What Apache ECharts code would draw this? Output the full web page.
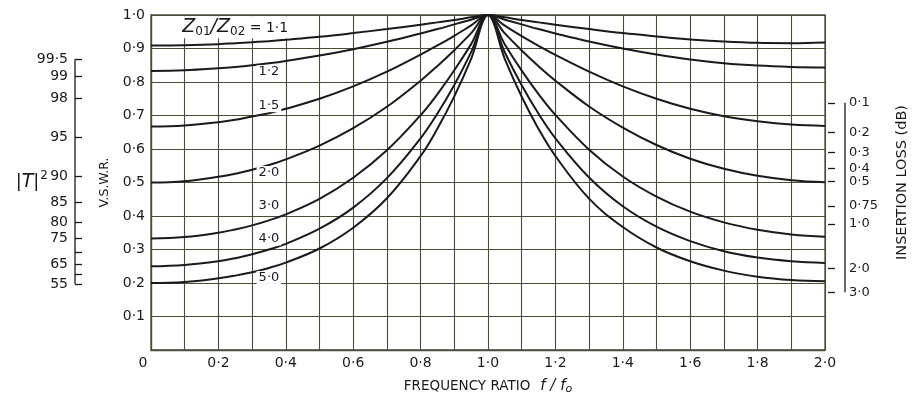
<!DOCTYPE html>
<html>
<head>
<meta charset="utf-8">
<script src="https://cdn.jsdelivr.net/npm/echarts@6/dist/echarts.min.js"></script>
<style>
html,body{margin:0;padding:0;background:#fff;}
#c{width:916px;height:401px;}
</style>
</head>
<body>
<div id="c"></div>
<script>
// ---- data ----
const freqRatio = [0, 0.1, 0.2, 0.25, 0.3, 0.35, 0.4, 0.5, 0.6, 0.7, 0.8, 0.85, 0.9, 0.95, 1.0, 1.05, 1.1, 1.15, 1.2, 1.3, 1.4, 1.5, 1.6, 1.7, 1.8, 1.9, 2.0];
const ratio11 = [0.909, 0.910, 0.913, 0.916, 0.919, 0.922, 0.926, 0.935, 0.946, 0.958, 0.971, 0.978, 0.985, 0.993, 1.0, 0.993, 0.985, 0.978, 0.971, 0.958, 0.946, 0.936, 0.927, 0.921, 0.917, 0.916, 0.918];
const ratio12 = [0.833, 0.835, 0.841, 0.845, 0.850, 0.856, 0.863, 0.879, 0.898, 0.920, 0.945, 0.958, 0.972, 0.986, 1.0, 0.986, 0.972, 0.958, 0.945, 0.921, 0.900, 0.882, 0.867, 0.856, 0.849, 0.845, 0.843];
const ratio15 = [0.667, 0.670, 0.680, 0.687, 0.697, 0.707, 0.720, 0.750, 0.787, 0.831, 0.882, 0.909, 0.938, 0.969, 1.0, 0.968, 0.937, 0.908, 0.881, 0.831, 0.787, 0.750, 0.720, 0.698, 0.683, 0.673, 0.669];
const ratio20 = [0.500, 0.504, 0.517, 0.526, 0.538, 0.552, 0.569, 0.610, 0.662, 0.726, 0.804, 0.848, 0.895, 0.946, 1.0, 0.945, 0.894, 0.847, 0.804, 0.727, 0.664, 0.612, 0.571, 0.541, 0.520, 0.507, 0.501];
const ratio30 = [0.333, 0.337, 0.350, 0.360, 0.372, 0.387, 0.405, 0.451, 0.514, 0.596, 0.701, 0.764, 0.835, 0.913, 1.0, 0.912, 0.834, 0.764, 0.702, 0.598, 0.518, 0.458, 0.413, 0.381, 0.359, 0.345, 0.338];
const ratio40 = [0.250, 0.254, 0.265, 0.274, 0.286, 0.300, 0.317, 0.362, 0.425, 0.513, 0.632, 0.706, 0.791, 0.889, 1.0, 0.888, 0.790, 0.705, 0.632, 0.515, 0.429, 0.368, 0.325, 0.295, 0.276, 0.265, 0.260];
const ratio50 = [0.200, 0.203, 0.214, 0.222, 0.232, 0.245, 0.261, 0.303, 0.365, 0.453, 0.579, 0.661, 0.757, 0.869, 1.0, 0.868, 0.756, 0.660, 0.579, 0.452, 0.367, 0.306, 0.265, 0.237, 0.219, 0.209, 0.205];
const curveNames = ['1·1', '1·2', '1·5', '2·0', '3·0', '4·0', '5·0'];

const transPct = [99.5, 99, 98, 95, 90, 85, 80, 75, 70, 65, 60, 55];
const transLabels = ['99·5', '99', '98', '95', '90', '85', '80', '75', '', '65', '', '55'];
const lossDb = [0.1, 0.2, 0.3, 0.4, 0.5, 0.75, 1.0, 2.0, 3.0];
const lossLabels = ['0·1', '0·2', '0·3', '0·4', '0·5', '0·75', '1·0', '2·0', '3·0'];

// ---- scale transforms (|T|^2 and insertion loss -> 1/VSWR) ----
function sFromT(T) { const g = Math.sqrt(1 - T); return (1 - g) / (1 + g); }
const transPos = transPct.map(p => sFromT(p / 100));
const lossPos = lossDb.map(d => sFromT(Math.pow(10, -d / 10)));

const INK = '#1a1a1a';
const GRIDC = '#4b4b3c';
const FONT = 'DejaVu Sans';
const dot = v => (Math.abs(v) < 1e-9 ? '0' : v.toFixed(1).replace('.', '·'));

const allCurves = [ratio11, ratio12, ratio15, ratio20, ratio30, ratio40, ratio50];
const labelCfg = [
  { at: 0.25, position: 'top', distance: 5 },
  { at: 0.35, position: 'bottom', distance: 2 },
  { at: 0.35, position: 'top', distance: 1 },
  { at: 0.35, position: 'bottom', distance: 1 },
  { at: 0.35, position: 'top', distance: 8 },
  { at: 0.35, position: 'top', distance: 4 },
  { at: 0.35, position: 'bottom', distance: 3 }
];

const curveSeries = allCurves.map((ys, k) => ({
  type: 'line',
  xAxisIndex: 0, yAxisIndex: 0,
  smooth: 0.4,
  symbol: 'circle', symbolSize: 0, showSymbol: true,
  silent: true,
  lineStyle: { color: INK, width: 2 },
  emphasis: { disabled: true },
  z: 5,
  data: freqRatio.map((x, i) => {
    const item = { value: [x, ys[i]] };
    if (Math.abs(x - labelCfg[k].at) < 1e-9) {
      item.label = {
        show: true,
        position: labelCfg[k].position,
        distance: labelCfg[k].distance,
        backgroundColor: '#fff',
        padding: [0, 2],
        color: INK,
        fontFamily: FONT,
        fontSize: 13,
        formatter: k === 0 ? '{z|Z}{s|01}{z|/Z}{s|02}{n| = ' + curveNames[0] + '}' : curveNames[k],
        rich: {
          z: { fontFamily: FONT, fontSize: 19, fontStyle: 'italic', color: INK, height: 22 },
          s: { fontFamily: FONT, fontSize: 12, color: INK, padding: [9, 0, 0, 0] },
          n: { fontFamily: FONT, fontSize: 14, color: INK, padding: [3, 0, 0, 0] }
        }
      };
    }
    return item;
  })
}));

const axisLineStyle = { color: GRIDC, width: 1.3 };

const option = {
  backgroundColor: '#fff',
  animation: false,
  grid: [
    { left: 151, right: 91, top: 15, bottom: 51, show: true, borderColor: GRIDC, borderWidth: 1.3 },
    { left: 75, width: 10, top: 15, bottom: 51 },
    { left: 835, width: 10, top: 15, bottom: 51 }
  ],
  xAxis: [
    {
      type: 'value', gridIndex: 0, min: 0, max: 2, interval: 0.1,
      axisLine: { show: true, lineStyle: axisLineStyle },
      axisTick: { show: false },
      splitLine: { show: true, lineStyle: { color: GRIDC, width: 1.1 } },
      axisLabel: {
        margin: 6, color: INK, fontFamily: FONT, fontSize: 14,
        formatter: v => (Math.round(v * 10) % 2 === 0 ? (Math.abs(v) < 1e-9 ? '{z|0}' : dot(v)) : ''),
        rich: { z: { fontFamily: FONT, fontSize: 14, color: INK, padding: [0, 16, 0, 0] } }
      },
      name: '{a|FREQUENCY RATIO}   {i|f / f}{o|o}',
      nameLocation: 'middle', nameGap: 27, nameMoveOverlap: false,
      nameTextStyle: {
        rich: {
          a: { fontFamily: FONT, fontSize: 13.5, color: INK },
          i: { fontFamily: FONT, fontSize: 15, fontStyle: 'italic', color: INK },
          o: { fontFamily: FONT, fontSize: 11, fontStyle: 'italic', color: INK, padding: [7, 0, 0, 0] }
        }
      }
    },
    { type: 'value', gridIndex: 1, min: 0, max: 1, show: false },
    { type: 'value', gridIndex: 2, min: 0, max: 1, show: false }
  ],
  yAxis: [
    {
      type: 'value', gridIndex: 0, min: 0, max: 1, interval: 0.1,
      axisLine: { show: true, lineStyle: axisLineStyle },
      axisTick: { show: false },
      splitLine: { show: true, lineStyle: { color: GRIDC, width: 1.1 } },
      axisLabel: {
        margin: 6, color: INK, fontFamily: FONT, fontSize: 14,
        formatter: v => (Math.abs(v) < 1e-9 ? '' : dot(v))
      },
      name: 'V.S.W.R.', nameLocation: 'middle', nameRotate: 90, nameGap: 40, nameMoveOverlap: false,
      nameTextStyle: { fontFamily: FONT, fontSize: 12.5, color: INK }
    },
    {
      type: 'value', gridIndex: 1, min: 0, max: 1, position: 'left',
      axisLine: { show: false },
      splitLine: { show: false },
      axisTick: { show: true, inside: true, length: 7, customValues: transPos, lineStyle: { color: INK, width: 1.3 } },
      axisLabel: {
        customValues: transPos, margin: 7, color: INK, fontFamily: FONT, fontSize: 14,
        formatter: v => { const i = transPos.findIndex(p => Math.abs(p - v) < 1e-6); return i >= 0 ? transLabels[i] : ''; }
      },
      name: '{b||}{t|T}{b||}{s|2}', nameLocation: 'middle', nameRotate: 0, nameGap: 27, nameMoveOverlap: false,
      nameTextStyle: {
        align: 'right',
        rich: {
          b: { fontFamily: FONT, fontSize: 18, color: INK },
          t: { fontFamily: FONT, fontSize: 19, fontStyle: 'italic', color: INK },
          s: { fontFamily: FONT, fontSize: 12, color: INK, padding: [0, 0, 13, 1] }
        }
      }
    },
    {
      type: 'value', gridIndex: 2, min: 0, max: 1, position: 'right',
      axisLine: { show: false },
      splitLine: { show: false },
      axisTick: { show: true, inside: true, length: 7, customValues: lossPos, lineStyle: { color: INK, width: 1.3 } },
      axisLabel: {
        customValues: lossPos, margin: 4, color: INK, fontFamily: FONT, fontSize: 13,
        formatter: v => { const i = lossPos.findIndex(p => Math.abs(p - v) < 1e-6); return i >= 0 ? lossLabels[i] : ''; }
      },
      name: 'INSERTION LOSS (dB)', nameLocation: 'middle', nameRotate: 90, nameGap: 50, nameMoveOverlap: false,
      nameTextStyle: { fontFamily: FONT, fontSize: 14.5, color: INK }
    }
  ],
  series: curveSeries
};

const chart = echarts.init(document.getElementById('c'), null, { renderer: 'canvas' });
chart.setOption(option);

// vertical brackets of the two side scales, placed through those scales' own axes
function bracket(gridIndex, xAt, pos) {
  const a = chart.convertToPixel({ gridIndex: gridIndex }, [xAt, pos[0]]);
  const b = chart.convertToPixel({ gridIndex: gridIndex }, [xAt, pos[pos.length - 1]]);
  return {
    type: 'line', silent: true, z: 10,
    shape: { x1: a[0], y1: a[1], x2: b[0], y2: b[1] },
    style: { stroke: INK, lineWidth: 1.3 }
  };
}
chart.setOption({ graphic: [bracket(1, 0, transPos), bracket(2, 1, lossPos)] });
</script>
</body>
</html>
